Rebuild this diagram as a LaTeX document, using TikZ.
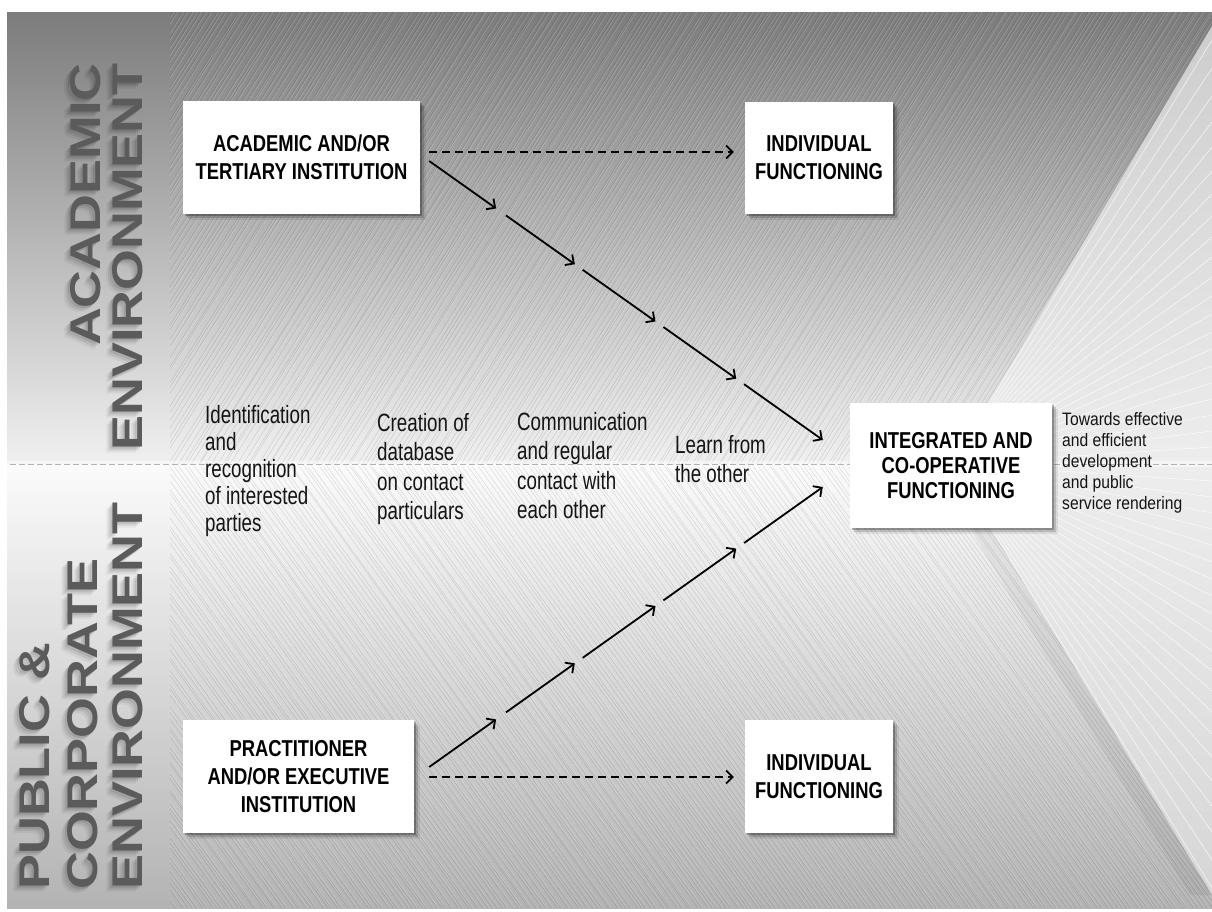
\documentclass[tikz,border=0pt]{standalone}
\usepackage{fontspec}
\setmainfont{Liberation Sans}
\newfontfamily\boxfont[FakeStretch=0.8]{Liberation Sans}
\newfontfamily\labfont[FakeStretch=0.75]{Liberation Sans}
\newfontfamily\smallfont[FakeStretch=0.87]{Liberation Sans}
\newfontfamily\envfont[FakeStretch=1.22]{Liberation Sans}
\usetikzlibrary{arrows.meta,shadows,calc}
\definecolor{bgA}{HTML}{7C7C7C}
\definecolor{bgB}{HTML}{F0F0F0}
\definecolor{bgC}{HTML}{FBFBFB}
\definecolor{bgD}{HTML}{B3B3B3}
\definecolor{chA}{HTML}{CDCDCD}
\definecolor{chB}{HTML}{EDEDED}
\definecolor{chC}{HTML}{D6D6D6}
\definecolor{envgray}{HTML}{5B5B5B}
\newcommand\drawenvlabels[1]{%
  \node[envtxt,#1,anchor=base east] at (100,63) {ACADEMIC};
  \node[envtxt,#1,anchor=base east] at (142,63) {ENVIRONMENT};
  \node[envtxt,#1,anchor=base west] at (49,890) {PUBLIC \&};
  \node[envtxt,#1,anchor=base west] at (97,890) {CORPORATE};
  \node[envtxt,#1,anchor=base west] at (142,890) {ENVIRONMENT};
}
\tikzset{
  envtxt/.style={inner sep=0pt, rotate=90, font=\envfont\bfseries\fontsize{43}{45}\selectfont},
  box/.style={fill=white, inner sep=0pt, align=center, text=black,
    font=\boxfont\bfseries\fontsize{23}{28}\selectfont,
    drop shadow={shadow xshift=2pt, shadow yshift=-2pt, opacity=0.25, fill=black},
    drop shadow={shadow xshift=4pt, shadow yshift=-4pt, opacity=0.15, fill=black},
    drop shadow={shadow xshift=6pt, shadow yshift=-6pt, opacity=0.08, fill=black}},
  lab/.style={inner sep=0pt, anchor=north west, align=left, text=black!92,
    font=\labfont\fontsize{25}{29.5}\selectfont},
  smalllab/.style={inner sep=0pt, anchor=north west, align=left, text=black!92,
    font=\smallfont\fontsize{18}{21}\selectfont},
  flow/.style={line width=1.8pt, -{Straight Barb[length=6.5pt,width=13pt]}},
  dashflow/.style={flow, dash pattern=on 8pt off 5pt},
  hatchdark/.style={black, opacity=0.12, line width=0.5pt},
  hatchlight/.style={white, opacity=0.2, line width=0.6pt},
  fan/.style={white, opacity=0.75, line width=0.6pt}
}
\begin{document}
\begin{tikzpicture}[x=1pt,y=-1pt]
\useasboundingbox (0,0) rectangle (1212,911);
\fill[white] (0,0) rectangle (1212,911);
% background halves
\shade[top color=bgA, bottom color=bgB] (7,12) rectangle (1212,464);
\shade[top color=bgC, bottom color=bgD] (7,464) rectangle (1212,908);
% chevron
\shade[top color=chA, bottom color=chB] (1212,26) -- (952,464) -- (1212,464) -- cycle;
\shade[top color=chB, bottom color=chC] (952,464) -- (1212,895) -- (1212,464) -- cycle;
% hatching top
\pgfmathsetseed{7}
\begin{scope}
  \clip (170,12) -- (1212,12) -- (1212,26) -- (952,464) -- (170,464) -- cycle;
  \foreach \i in {0,...,275} {
    \pgfmathsetmacro\xa{-160+\i*5+4*rnd}
    \draw[hatchdark] (\xa,464) -- ++(290,-460);
    \draw[hatchlight] (\xa+1.3,464) -- ++(290,-460);
  }
\end{scope}
% hatching bottom
\begin{scope}
  \clip (170,464) -- (952,464) -- (1212,895) -- (1212,908) -- (170,908) -- cycle;
  \foreach \i in {0,...,275} {
    \pgfmathsetmacro\xa{-160+\i*5+4*rnd}
    \draw[hatchdark] (\xa,464) -- ++(320,444);
    \draw[hatchlight] (\xa+1.3,464) -- ++(320,444);
  }
\end{scope}
% soft darker band outside the lower chevron edge
\begin{scope}
  \clip (952,464) -- (1212,895) -- (1212,908) -- (900,908) -- (900,464) -- cycle;
  \fill[black, opacity=0.05] (952,464) -- (1212,895) -- (1190,895) -- (935,470) -- cycle;
\end{scope}
% fan lines in chevron
\begin{scope}
  \clip (1212,26) -- (952,464) -- (1212,895) -- cycle;
  \foreach \yy in {40,68,96,122,147,171,194,216,237,257,277,296,314,332,349,366,383,399,415,431,447} {
    \draw[fan] (952,464) -- (1212,\yy);
    \draw[fan] (952,464) -- (1212,928-\yy);
  }
\end{scope}
% divider
\fill[white, opacity=0.45] (7,461) rectangle (1212,467);
\draw[black!30, line width=0.8pt, dash pattern=on 6pt off 3pt] (10,464) -- (1212,464);
% vertical environment labels with soft shadow
\begin{scope}[shift={(-4,4)}]\drawenvlabels{text=black, opacity=0.08}\end{scope}
\begin{scope}[shift={(-2,2)}]\drawenvlabels{text=black, opacity=0.10}\end{scope}
\begin{scope}[shift={(-6,6)}]\drawenvlabels{text=black, opacity=0.05}\end{scope}
\drawenvlabels{text=envgray}
% boxes
\node[box, minimum width=237pt, minimum height=113pt] (acad) at (301.5,157.5) {ACADEMIC AND/OR\\TERTIARY INSTITUTION};
\node[box, minimum width=148pt, minimum height=112pt] (ind1) at (819,158) {INDIVIDUAL\\FUNCTIONING};
\node[box, minimum width=202pt, minimum height=125pt, font=\boxfont\bfseries\fontsize{23}{25}\selectfont] (integ) at (951,465.5) {INTEGRATED AND\\CO-OPERATIVE\\FUNCTIONING};
\node[box, minimum width=231pt, minimum height=113pt] (pract) at (298.5,776.5) {PRACTITIONER\\AND/OR EXECUTIVE\\INSTITUTION};
\node[box, minimum width=148pt, minimum height=113pt] (ind2) at (819,776.5) {INDIVIDUAL\\FUNCTIONING};
% labels
\node[lab, font=\labfont\fontsize{25}{27}\selectfont] (ident) at (205,405) {Identification\\and\\recognition\\of interested\\parties};
\node[lab] (creat) at (377,413) {Creation of\\database\\on contact\\particulars};
\node[lab] (comm) at (517,412) {Communication\\and regular\\contact with\\each other};
\node[lab] (learn) at (675,435) {Learn from\\the other};
\node[smalllab] (towards) at (1062,412) {Towards effective\\and efficient\\development\\and public\\service rendering};
% connectors
\draw[dashflow] ($(acad.east)+(9,-5.5)$) -- ($(ind1.west)+(-11,-6)$);
\draw[dashflow] ($(pract.east)+(15,0.5)$) -- ($(ind2.west)+(-11,0.5)$);
\coordinate (s1) at ($(acad.east)+(9,3.5)$);
\coordinate (e1) at ($(integ.west)+(-27,-25.5)$);
\coordinate (s2) at ($(pract.east)+(15,-9.5)$);
\coordinate (e2) at ($(integ.west)+(-27,21.5)$);
\foreach \a/\b in {0/0.17, 0.195/0.37, 0.39/0.575, 0.595/0.78, 0.80/1}{
  \draw[flow] ($(s1)!\a!(e1)$) -- ($(s1)!\b!(e1)$);
  \draw[flow] ($(s2)!\a!(e2)$) -- ($(s2)!\b!(e2)$);
}
\end{tikzpicture}
\end{document}
